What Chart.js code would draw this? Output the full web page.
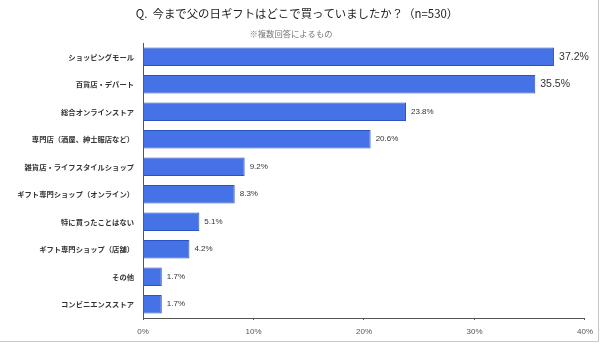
<!DOCTYPE html>
<html>
<head>
<meta charset="utf-8">
<script src="https://cdn.jsdelivr.net/npm/chart.js@4.4.1/dist/chart.umd.min.js"></script>
<style>
  body { margin: 0; background: #fff; }
  #wrap { position: relative; width: 600px; height: 351px; }
  #frame { position: absolute; left: 0; top: 0; width: 598px; height: 341px;
           border-right: 1px solid #c8c8c8; border-bottom: 1px solid #c8c8c8; }
  canvas { position: absolute; left: 0; top: 0; }
</style>
</head>
<body>
<div id="wrap">
  <div id="frame"></div>
  <canvas id="chart" width="600" height="351"></canvas>
</div>
<script>
const titleText = "Q.  今まで父の日ギフトはどこで買っていましたか？（n=530）";
const subText = "※複数回答によるもの";

const categories = [
  "ショッピングモール",
  "百貨店・デパート",
  "総合オンラインストア",
  "専門店（酒屋、紳士服店など）",
  "雑貨店・ライフスタイルショップ",
  "ギフト専門ショップ（オンライン）",
  "特に買ったことはない",
  "ギフト専門ショップ（店舗）",
  "その他",
  "コンビニエンスストア"
];
const values = [37.2, 35.5, 23.8, 20.6, 9.2, 8.3, 5.1, 4.2, 1.7, 1.7];
const tickValues = [0, 10, 20, 30, 40];

// title + subtitle on top
const headerPlugin = {
  id: "header",
  afterDraw(chart) {
    const ctx = chart.ctx;
    ctx.save();
    ctx.fillStyle = "#222";
    ctx.font = "11.4px 'Noto Sans CJK JP'";
    ctx.textAlign = "center";
    ctx.textBaseline = "middle";
    ctx.fillText(titleText, 297, 14);
    ctx.fillStyle = "#777";
    ctx.font = "8.3px 'Noto Sans CJK JP'";
    ctx.fillText(subText, 291, 34);
    ctx.restore();
  }
};

// value labels at the end of each bar
const valueLabels = {
  id: "valueLabels",
  afterDatasetsDraw(chart) {
    const ctx = chart.ctx;
    const meta = chart.getDatasetMeta(0);
    ctx.save();
    ctx.fillStyle = "#333";
    ctx.textAlign = "left";
    ctx.textBaseline = "middle";
    meta.data.forEach((bar, i) => {
      ctx.font = i < 2 ? "10.5px 'Liberation Sans'" : "8px 'Liberation Sans'";
      ctx.fillText(values[i].toFixed(1) + "%", bar.x + 5, bar.y);
    });
    ctx.restore();
  }
};

let ctx = document.getElementById("chart").getContext("2d");
let myChart = new Chart(ctx, {
  type: "bar",
  data: {
    labels: categories,
    datasets: [{
      data: values,
      backgroundColor: "#4572E6",
      borderColor: "#2C52C4",
      borderWidth: 1,
      barPercentage: 0.67,
      categoryPercentage: 1
    }]
  },
  options: {
    indexAxis: "y",
    responsive: false,
    animation: false,
    layout: { padding: { top: 43, right: 15, left: 0, bottom: 0 } },
    plugins: {
      legend: { display: false },
      tooltip: { enabled: false }
    },
    scales: {
      x: {
        min: 0,
        max: 40,
        afterBuildTicks(scale) {
          scale.ticks = tickValues.map(v => ({ value: v }));
        },
        afterFit(scale) { scale.height = 33; },
        grid: { drawOnChartArea: false, drawTicks: true, tickLength: 2, color: "#555" },
        border: { display: true, color: "#555", width: 1 },
        ticks: {
          padding: 7,
          color: "#555",
          font: { family: "'Liberation Sans'", size: 8 },
          callback: v => v + "%"
        }
      },
      y: {
        afterFit(scale) { scale.width = 143; },
        grid: { display: false, drawTicks: false },
        border: { display: true, color: "#555", width: 1 },
        ticks: {
          padding: 9,
          color: "#333",
          font: { family: "'Noto Sans CJK JP'", size: 7.3, weight: "bold" }
        }
      }
    }
  },
  plugins: [headerPlugin, valueLabels]
});
</script>
</body>
</html>
